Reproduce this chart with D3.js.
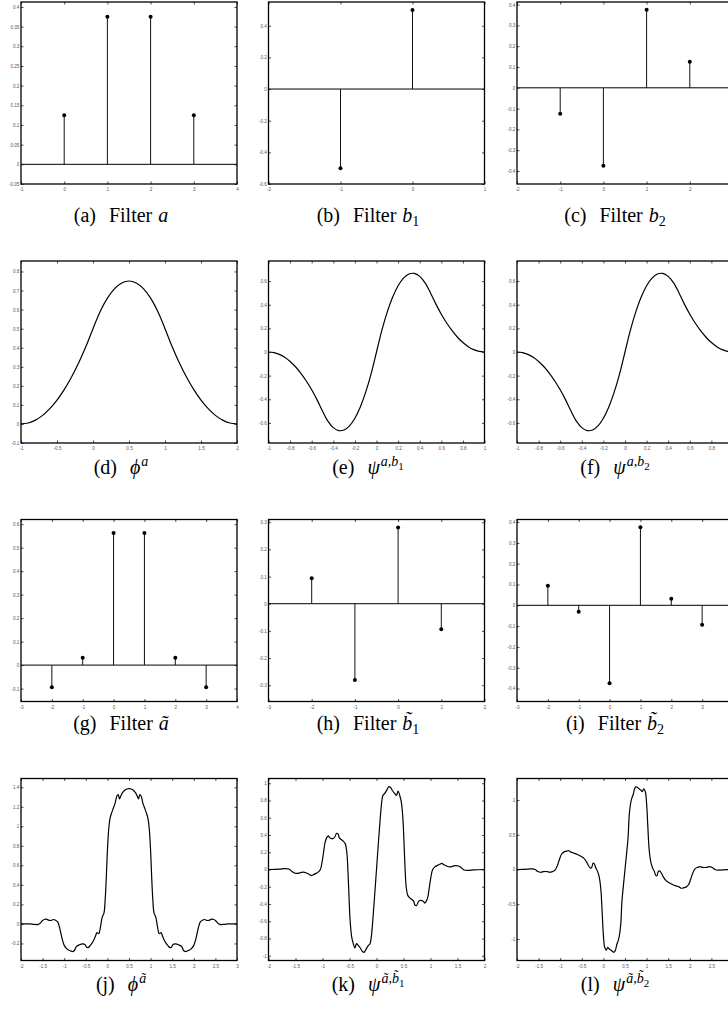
<!DOCTYPE html>
<html><head><meta charset="utf-8">
<script src="https://cdn.jsdelivr.net/npm/d3@7"></script>
<style>body{margin:0;background:#fff}svg{display:block}</style>
</head><body><svg id="c" width="728" height="1012"></svg>
<script>
// ---------- data ----------
const aK = [0, 1, 2, 3];
const aV = [0.125, 0.375, 0.375, 0.125];
const b1K = [-1, 0];
const b1V = [-0.5, 0.5];
const b2K = [-1, 0, 1, 2];
const b2V = [-0.125, -0.375, 0.375, 0.125];
const atK = [-2, -1, 0, 1, 2, 3];
const atV = [-0.094, 0.031, 0.5625, 0.5625, 0.031, -0.094];
const bt1K = [-2, -1, 0, 1];
const bt1V = [0.094, -0.281, 0.281, -0.094];
const bt2K = [-2, -1, 0, 1, 2, 3];
const bt2V = [0.094, -0.031, -0.375, 0.375, 0.031, -0.094];

const phiA_x = [-1,-0.9,-0.8,-0.7,-0.6,-0.5,-0.4,-0.3,-0.2,-0.1,0,0.1,0.2,0.3,0.4,0.5,0.6,0.7,0.8,0.9,1,1.1,1.2,1.3,1.4,1.5,1.6,1.7,1.8,1.9,2];
const phiA_y = [0,0.005,0.02,0.045,0.08,0.125,0.18,0.245,0.32,0.405,0.5,0.59,0.66,0.71,0.74,0.75,0.74,0.71,0.66,0.59,0.5,0.405,0.32,0.245,0.18,0.125,0.08,0.045,0.02,0.005,0];

const psiAB1_x = [-1,-0.95,-0.9,-0.85,-0.8,-0.75,-0.7,-0.65,-0.6,-0.55,-0.5,-0.45,-0.4,-0.35,-0.3,-0.25,-0.2,-0.15,-0.1,-0.05,0,0.05,0.1,0.15,0.2,0.25,0.3,0.35,0.4,0.45,0.5,0.55,0.6,0.65,0.7,0.75,0.8,0.85,0.9,0.95,1];
const psiAB1_y = [0,-0.005,-0.02,-0.045,-0.08,-0.125,-0.18,-0.245,-0.32,-0.405,-0.5,-0.585,-0.64,-0.665,-0.66,-0.625,-0.56,-0.465,-0.34,-0.185,0,0.185,0.34,0.465,0.56,0.625,0.66,0.665,0.64,0.585,0.5,0.405,0.32,0.245,0.18,0.125,0.08,0.045,0.02,0.005,0];
const psiAB2_x = [-1,-0.95,-0.9,-0.85,-0.8,-0.75,-0.7,-0.65,-0.6,-0.55,-0.5,-0.45,-0.4,-0.35,-0.3,-0.25,-0.2,-0.15,-0.1,-0.05,0,0.05,0.1,0.15,0.2,0.25,0.3,0.35,0.4,0.45,0.5,0.55,0.6,0.65,0.7,0.75,0.8,0.85,0.9,0.95,1];
const psiAB2_y = [0,-0.005,-0.02,-0.045,-0.08,-0.125,-0.18,-0.245,-0.32,-0.405,-0.5,-0.585,-0.64,-0.665,-0.66,-0.625,-0.56,-0.465,-0.34,-0.185,0,0.185,0.34,0.465,0.56,0.625,0.66,0.665,0.64,0.585,0.5,0.405,0.32,0.245,0.18,0.125,0.08,0.045,0.02,0.005,0];

const phiAt_x = [-2,-1.8,-1.7,-1.6,-1.55,-1.5,-1.45,-1.4,-1.35,-1.3,-1.25,-1.2,-1.15,-1.1,-1.05,-1,-0.95,-0.9,-0.85,-0.8,-0.76,-0.72,-0.65,-0.58,-0.52,-0.48,-0.45,-0.41,-0.36,-0.32,-0.28,-0.24,-0.2,-0.16,-0.12,-0.08,-0.05,-0.025,0,0.03,0.06,0.1,0.14,0.18,0.22,0.25,0.28,0.31,0.35,0.4,0.45,0.5,0.55,0.6,0.65,0.69,0.72,0.75,0.78,0.82,0.86,0.9,0.94,0.97,1,1.025,1.05,1.08,1.12,1.16,1.2,1.24,1.28,1.32,1.36,1.41,1.45,1.48,1.52,1.58,1.65,1.72,1.76,1.8,1.85,1.9,1.95,2,2.05,2.1,2.15,2.2,2.25,2.3,2.35,2.4,2.45,2.5,2.55,2.6,2.7,2.8,3];
const phiAt_y = [0,0,-0.005,-0.005,0.01,0.035,0.048,0.046,0.036,0.036,0.045,0.038,0.02,-0.05,-0.15,-0.22,-0.25,-0.268,-0.278,-0.283,-0.27,-0.232,-0.215,-0.205,-0.21,-0.24,-0.243,-0.228,-0.2,-0.17,-0.13,-0.09,-0.1,-0.03,0.07,0.11,0.26,0.48,0.75,0.97,1.08,1.14,1.19,1.24,1.31,1.325,1.28,1.31,1.345,1.37,1.383,1.387,1.383,1.37,1.345,1.31,1.28,1.325,1.31,1.24,1.19,1.14,1.08,0.97,0.75,0.48,0.26,0.11,0.07,-0.03,-0.1,-0.09,-0.13,-0.17,-0.2,-0.228,-0.243,-0.24,-0.21,-0.205,-0.215,-0.232,-0.27,-0.283,-0.278,-0.268,-0.25,-0.22,-0.15,-0.05,0.02,0.038,0.045,0.036,0.036,0.046,0.048,0.035,0.01,-0.005,-0.005,0,0];

const psiAtBt1_x = [-2,-1.8,-1.7,-1.62,-1.57,-1.52,-1.45,-1.4,-1.35,-1.3,-1.25,-1.21,-1.17,-1.12,-1.08,-1.04,-1.01,-0.98,-0.95,-0.92,-0.89,-0.87,-0.84,-0.8,-0.77,-0.74,-0.71,-0.69,-0.66,-0.62,-0.58,-0.55,-0.53,-0.51,-0.49,-0.46,-0.43,-0.4,-0.37,-0.34,-0.3,-0.26,-0.23,-0.19,-0.15,-0.12,-0.1,-0.07,-0.04,0,0.04,0.07,0.1,0.12,0.15,0.19,0.23,0.26,0.3,0.34,0.37,0.4,0.43,0.46,0.49,0.51,0.53,0.55,0.58,0.62,0.66,0.69,0.71,0.74,0.77,0.8,0.84,0.87,0.89,0.92,0.95,0.98,1.01,1.04,1.08,1.12,1.17,1.21,1.25,1.3,1.35,1.4,1.45,1.52,1.57,1.62,1.7,1.8,2];
const psiAtBt1_y = [0,0.005,0.01,0.005,-0.02,-0.04,-0.045,-0.035,-0.03,-0.04,-0.055,-0.07,-0.06,-0.045,-0.03,0,0.08,0.2,0.32,0.37,0.39,0.37,0.36,0.36,0.38,0.42,0.41,0.37,0.35,0.33,0.3,0.2,0,-0.3,-0.58,-0.78,-0.86,-0.91,-0.86,-0.88,-0.91,-0.95,-0.96,-0.92,-0.88,-0.86,-0.8,-0.6,-0.35,0,0.35,0.6,0.8,0.86,0.88,0.92,0.96,0.95,0.91,0.88,0.86,0.91,0.86,0.78,0.58,0.3,0,-0.2,-0.3,-0.33,-0.35,-0.37,-0.41,-0.42,-0.38,-0.36,-0.36,-0.37,-0.39,-0.37,-0.32,-0.2,-0.08,0,0.03,0.045,0.06,0.07,0.055,0.04,0.03,0.035,0.045,0.04,0.02,-0.005,-0.01,-0.005,0];

const psiAtBt2_x = [-2,-1.75,-1.65,-1.58,-1.52,-1.45,-1.38,-1.3,-1.24,-1.18,-1.12,-1.07,-1.02,-0.97,-0.92,-0.85,-0.8,-0.75,-0.68,-0.6,-0.52,-0.45,-0.39,-0.34,-0.3,-0.27,-0.24,-0.21,-0.18,-0.14,-0.1,-0.06,-0.03,0,0.03,0.07,0.1,0.13,0.17,0.21,0.25,0.28,0.31,0.34,0.37,0.4,0.43,0.46,0.5,0.54,0.57,0.6,0.63,0.66,0.69,0.72,0.75,0.79,0.83,0.87,0.9,0.93,0.97,1,1.03,1.06,1.1,1.14,1.18,1.21,1.24,1.27,1.3,1.34,1.39,1.45,1.52,1.6,1.68,1.75,1.8,1.85,1.92,1.97,2.02,2.07,2.12,2.18,2.24,2.3,2.38,2.45,2.52,2.58,2.65,2.75,3];
const psiAtBt2_y = [0,0.005,0.01,0,-0.03,-0.04,-0.03,-0.03,-0.04,-0.03,-0.01,0.05,0.14,0.22,0.25,0.265,0.27,0.25,0.235,0.215,0.19,0.16,0.11,0.05,0.02,0.03,0.09,0.08,0.03,-0.02,-0.1,-0.28,-0.6,-0.95,-1.12,-1.16,-1.12,-1.14,-1.16,-1.18,-1.19,-1.16,-1.08,-1.03,-0.95,-0.8,-0.45,-0.25,0,0.25,0.45,0.8,0.95,1.03,1.08,1.16,1.19,1.18,1.16,1.14,1.12,1.16,1.12,0.95,0.6,0.28,0.1,0.02,-0.03,-0.08,-0.09,-0.03,-0.02,-0.05,-0.11,-0.16,-0.19,-0.215,-0.235,-0.25,-0.27,-0.265,-0.25,-0.22,-0.14,-0.05,0.01,0.03,0.04,0.03,0.03,0.04,0.03,0,-0.01,-0.005,0];

// tick values
const xtA = [-1,0,1,2,3,4];
const ytA = [-0.05,0,0.05,0.1,0.15,0.2,0.25,0.3,0.35,0.4];
const xtB1 = [-2,-1,0,1];
const ytB1 = [-0.6,-0.4,-0.2,0,0.2,0.4];
const xtB2 = [-2,-1,0,1,2,3];
const ytB2 = [-0.4,-0.3,-0.2,-0.1,0,0.1,0.2,0.3,0.4];
const xtPhiA = [-1,-0.5,0,0.5,1,1.5,2];
const ytPhiA = [-0.1,0,0.1,0.2,0.3,0.4,0.5,0.6,0.7,0.8];
const xtPsiA = [-1,-0.8,-0.6,-0.4,-0.2,0,0.2,0.4,0.6,0.8,1];
const ytPsiA = [-0.6,-0.4,-0.2,0,0.2,0.4,0.6];
const xtAt = [-3,-2,-1,0,1,2,3,4];
const ytAt = [-0.1,0,0.1,0.2,0.3,0.4,0.5,0.6];
const xtBt1 = [-3,-2,-1,0,1,2];
const ytBt1 = [-0.3,-0.2,-0.1,0,0.1,0.2,0.3];
const xtBt2 = [-3,-2,-1,0,1,2,3,4];
const ytBt2 = [-0.4,-0.3,-0.2,-0.1,0,0.1,0.2,0.3,0.4];
const xtPhiAt = [-2,-1.5,-1,-0.5,0,0.5,1,1.5,2,2.5,3];
const ytPhiAt = [-0.2,0,0.2,0.4,0.6,0.8,1,1.2,1.4];
const xtPsiAt1 = [-2,-1.5,-1,-0.5,0,0.5,1,1.5,2];
const ytPsiAt1 = [-1,-0.8,-0.6,-0.4,-0.2,0,0.2,0.4,0.6,0.8,1];
const xtPsiAt2 = [-2,-1.5,-1,-0.5,0,0.5,1,1.5,2,2.5,3];
const ytPsiAt2 = [-1,-0.5,0,0.5,1];

// captions: [text, level, italic, gapBefore]
const capA = [["(a)",0,0,0],["Filter",0,0,13],["a",0,1,6]];
const capB = [["(b)",0,0,0],["Filter",0,0,13],["b",0,1,6],["1",-1,0,0]];
const capC = [["(c)",0,0,0],["Filter",0,0,13],["b",0,1,6],["2",-1,0,0]];
const capD = [["(d)",0,0,0],["\u03D5",0,1,13],["a",1,1,1]];
const capE = [["(e)",0,0,0],["\u03C8",0,1,13],["a,b",1,1,1],["1",2,0,0]];
const capF = [["(f)",0,0,0],["\u03C8",0,1,13],["a,b",1,1,1],["2",2,0,0]];
const capG = [["(g)",0,0,0],["Filter",0,0,13],["a\u0303",0,1,6]];
const capH = [["(h)",0,0,0],["Filter",0,0,13],["b\u0303",0,1,6],["1",-1,0,0]];
const capI = [["(i)",0,0,0],["Filter",0,0,13],["b\u0303",0,1,6],["2",-1,0,0]];
const capJ = [["(j)",0,0,0],["\u03D5",0,1,13],["a\u0303",1,1,1]];
const capK = [["(k)",0,0,0],["\u03C8",0,1,13],["a\u0303,b\u0303",1,1,1],["1",2,0,0]];
const capL = [["(l)",0,0,0],["\u03C8",0,1,13],["a\u0303,b\u0303",1,1,1],["2",2,0,0]];

const zip = (xs, ys) => xs.map((v, i) => [v, ys[i]]);
const panels = [
  {type:"stem", k:aK, v:aV, xd:[-1,4], yd:[-0.05,0.4125], xt:xtA, yt:ytA, cap:capA},
  {type:"stem", k:b1K, v:b1V, xd:[-2,1], yd:[-0.6,0.55], xt:xtB1, yt:ytB1, cap:capB},
  {type:"stem", k:b2K, v:b2V, xd:[-2,3], yd:[-0.4625,0.4125], xt:xtB2, yt:ytB2, cap:capC},
  {type:"line", pts:zip(phiA_x,phiA_y), xd:[-1,2], yd:[-0.1,0.855], xt:xtPhiA, yt:ytPhiA, cap:capD},
  {type:"line", pts:zip(psiAB1_x,psiAB1_y), xd:[-1,1], yd:[-0.77,0.77], xt:xtPsiA, yt:ytPsiA, cap:capE},
  {type:"line", pts:zip(psiAB2_x,psiAB2_y), xd:[-1,1], yd:[-0.77,0.77], xt:xtPsiA, yt:ytPsiA, cap:capF},
  {type:"stem", k:atK, v:atV, xd:[-3,4], yd:[-0.155,0.62], xt:xtAt, yt:ytAt, cap:capG},
  {type:"stem", k:bt1K, v:bt1V, xd:[-3,2], yd:[-0.36,0.31], xt:xtBt1, yt:ytBt1, cap:capH},
  {type:"stem", k:bt2K, v:bt2V, xd:[-3,4], yd:[-0.4625,0.4125], xt:xtBt2, yt:ytBt2, cap:capI},
  {type:"line", pts:zip(phiAt_x,phiAt_y), xd:[-2,3], yd:[-0.375,1.49], xt:xtPhiAt, yt:ytPhiAt, cap:capJ},
  {type:"line", pts:zip(psiAtBt1_x,psiAtBt1_y), xd:[-2,2], yd:[-1.055,1.055], xt:xtPsiAt1, yt:ytPsiAt1, cap:capK},
  {type:"line", pts:zip(psiAtBt2_x,psiAtBt2_y), xd:[-2,3], yd:[-1.31,1.31], xt:xtPsiAt2, yt:ytPsiAt2, cap:capL}
];

// ---------- layout ----------
const svg = d3.select("#c");
const W = 216, H = 182;
const colX = [21, 268.5, 517];
const rowY = [2, 261, 519.5, 778.5];
const capCX = [121, 368, 615];
const capBase = [222, 474, 730, 991];
const TICK = 2.5;
const fmt = v => String(+v.toFixed(3));

const levelSize = {0:20, 1:14, "-1":14, 2:11};
const levelOff = {0:0, 1:-8, "-1":4, 2:-4};

panels.forEach((p, i) => {
  const r = Math.floor(i / 3), c = i % 3;
  const g = svg.append("g").attr("transform", `translate(${colX[c]},${rowY[r]})`);
  const x = d3.scaleLinear().domain(p.xd).range([0, W]);
  const y = d3.scaleLinear().domain(p.yd).range([H, 0]);

  const styleAxis = sel => {
    sel.select(".domain").remove();
    sel.selectAll(".tick line").attr("stroke", "#000").attr("stroke-width", 0.7);
    sel.selectAll(".tick text").attr("font-family", "Liberation Sans, Arial, sans-serif")
      .attr("font-size", 4.6).attr("fill", "#555");
  };
  g.append("g").attr("transform", `translate(0,${H})`)
    .call(d3.axisBottom(x).tickValues(p.xt).tickSize(-TICK).tickPadding(4).tickFormat(fmt)).call(styleAxis);
  g.append("g")
    .call(d3.axisTop(x).tickValues(p.xt).tickSize(-TICK).tickFormat("")).call(styleAxis);
  g.append("g")
    .call(d3.axisLeft(y).tickValues(p.yt).tickSize(-TICK).tickPadding(1.6).tickFormat(fmt)).call(styleAxis);
  g.append("g").attr("transform", `translate(${W},0)`)
    .call(d3.axisRight(y).tickValues(p.yt).tickSize(-TICK).tickFormat("")).call(styleAxis);

  if (p.type === "stem") {
    const data = p.k.map((k, j) => ({k, v: p.v[j]}));
    g.append("line").attr("x1", 0).attr("x2", W).attr("y1", y(0)).attr("y2", y(0))
      .attr("stroke", "#000").attr("stroke-width", 1);
    g.selectAll("line.stem").data(data).join("line").attr("class", "stem")
      .attr("x1", d => x(d.k)).attr("x2", d => x(d.k))
      .attr("y1", y(0)).attr("y2", d => y(d.v))
      .attr("stroke", "#111").attr("stroke-width", 1);
    g.selectAll("circle").data(data).join("circle")
      .attr("cx", d => x(d.k)).attr("cy", d => y(d.v)).attr("r", 2).attr("fill", "#000");
  } else {
    const line = d3.line().x(d => x(d[0])).y(d => y(d[1])).curve(d3.curveCatmullRom.alpha(0.5));
    g.append("path").datum(p.pts).attr("d", line).attr("fill", "none")
      .attr("stroke", "#000").attr("stroke-width", 1.2).attr("stroke-linejoin", "round");
  }

  g.append("rect").attr("x", 0).attr("y", 0).attr("width", W).attr("height", H)
    .attr("fill", "none").attr("stroke", "#000").attr("stroke-width", 1.3);

  // caption
  const t = svg.append("text").attr("x", capCX[c]).attr("y", capBase[r])
    .attr("text-anchor", "middle").attr("font-family", "Liberation Serif, DejaVu Serif, serif")
    .attr("fill", "#000");
  let cur = 0;
  p.cap.forEach(([txt, lvl, it, gap]) => {
    const off = levelOff[lvl];
    t.append("tspan").text(txt)
      .attr("dx", gap).attr("dy", off - cur)
      .attr("font-size", levelSize[lvl])
      .attr("font-style", it ? "italic" : "normal");
    cur = off;
  });
});
</script></body></html>
